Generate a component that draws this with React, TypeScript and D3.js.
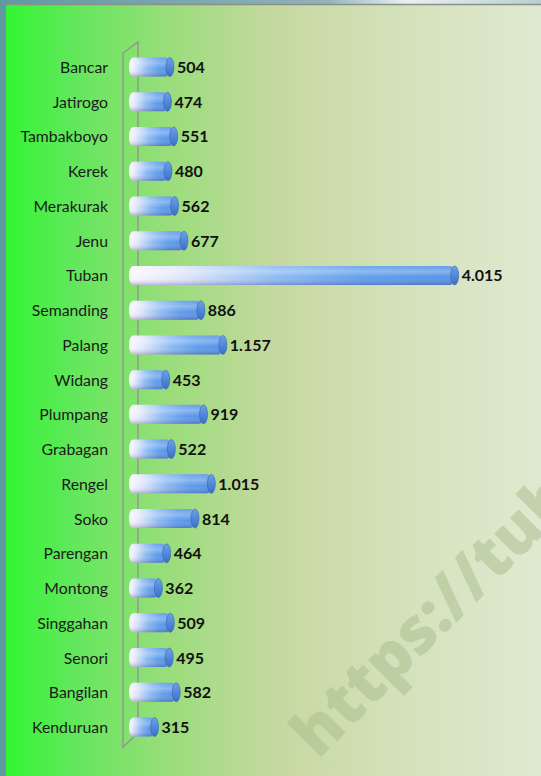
import React, { useEffect } from "react";
import * as d3 from "d3";

const categories = [
  "Bancar", "Jatirogo", "Tambakboyo", "Kerek", "Merakurak", "Jenu", "Tuban",
  "Semanding", "Palang", "Widang", "Plumpang", "Grabagan", "Rengel", "Soko",
  "Parengan", "Montong", "Singgahan", "Senori", "Bangilan", "Kenduruan",
];
const values = [
  504, 474, 551, 480, 562, 677, 4015, 886, 1157, 453, 919, 522, 1015, 814,
  464, 362, 509, 495, 582, 315,
];

const W = 541;
const H = 776;

const locale = d3.formatLocale({ decimal: ",", thousands: ".", grouping: [3], currency: ["Rp", ""] });
const fmt = locale.format(",d");

export default function App() {
  useEffect(() => {
    document.body.style.margin = "0";
  }, []);

  const x = d3.scaleLinear().domain([0, 4500]).range([129, 494]);
  const y = d3.scalePoint<string>().domain(categories).range([67, 727]);
  const barH = 19;
  const capRx = 4;

  return (
    <svg width={W} height={H} style={{ display: "block", position: "absolute", left: 0, top: 0 }}>
      <defs>
        <linearGradient id="outer" x1="0" y1="0" x2="1" y2="0">
          <stop offset="0" stopColor="#5f9aa2" />
          <stop offset="0.6" stopColor="#8fb3b8" />
          <stop offset="0.75" stopColor="#e8f0f2" />
          <stop offset="1" stopColor="#b8cfd2" />
        </linearGradient>
        <linearGradient id="bg" x1="0" y1="0" x2="1" y2="0">
          <stop offset="0" stopColor="#33f533" />
          <stop offset="0.12" stopColor="#5fe85a" />
          <stop offset="0.3" stopColor="#99dd7a" />
          <stop offset="0.5" stopColor="#c6d8a0" />
          <stop offset="0.75" stopColor="#d4e2bc" />
          <stop offset="1" stopColor="#dfe9d0" />
        </linearGradient>
        <linearGradient id="barH" x1="0" y1="0" x2="1" y2="0">
          <stop offset="0" stopColor="#fbf8ff" />
          <stop offset="0.15" stopColor="#e2e8fb" />
          <stop offset="0.45" stopColor="#8cbaf2" />
          <stop offset="0.72" stopColor="#609deb" />
          <stop offset="1" stopColor="#5591e5" />
        </linearGradient>
        <linearGradient id="barV" x1="0" y1="0" x2="0" y2="1">
          <stop offset="0" stopColor="#ffffff" stopOpacity="0.1" />
          <stop offset="0.3" stopColor="#ffffff" stopOpacity="0.3" />
          <stop offset="0.6" stopColor="#ffffff" stopOpacity="0" />
          <stop offset="1" stopColor="#3a2a70" stopOpacity="0.3" />
        </linearGradient>
        <linearGradient id="cap" x1="0" y1="0" x2="0" y2="1">
          <stop offset="0" stopColor="#6aa2ec" />
          <stop offset="1" stopColor="#3c6fc4" />
        </linearGradient>
      </defs>

      <rect x={0} y={0} width={W} height={H} fill="url(#outer)" />
      <rect x={6} y={5} width={W - 6} height={H - 5} fill="url(#bg)" />
      <line x1={6} y1={4.5} x2={W} y2={4.5} stroke="#8a8f88" strokeWidth={1.5} />
      <line x1={5.5} y1={5} x2={5.5} y2={H} stroke="#8a8f88" strokeWidth={1} />

      {/* watermark */}
      <text
        x={0}
        y={0}
        transform="translate(318,760) rotate(-45)"
        fontFamily="'Open Sans', sans-serif"
        fontWeight="800"
        fontSize={64}
        fill="#a7bc8c"
        fillOpacity={0.5}
      >
        https://tubankab
      </text>

      {/* 3D axis wall */}
      <path
        d={`M123,53 L138,42 L138,733 L123,747 Z`}
        fill="none"
        stroke="#8f9a8c"
        strokeWidth={1.5}
      />

      {categories.map((c, i) => {
        const cy = y(c)!;
        const x0 = x(0);
        const x1 = x(values[i]);
        return (
          <g key={c}>
            <text
              x={108}
              y={cy + 6}
              textAnchor="end"
              fontFamily="Lato, sans-serif"
              fontSize={15.8}
              fill="#1a1a1a"
            >
              {c}
            </text>
            <rect x={x0} y={cy - barH / 2} width={x1 - x0} height={barH} rx={4} ry={barH / 2} fill="url(#barH)" />
            <rect x={x0} y={cy - barH / 2} width={x1 - x0} height={barH} rx={4} ry={barH / 2} fill="url(#barV)" />
            <ellipse cx={x1} cy={cy} rx={capRx} ry={barH / 2} fill="url(#cap)" stroke="#3564b4" strokeWidth={0.6} />
            <text
              x={x1 + capRx + 3}
              y={cy + 6}
              fontFamily="Lato, sans-serif"
              fontWeight="bold"
              fontSize={16}
              fill="#111"
            >
              {fmt(values[i])}
            </text>
          </g>
        );
      })}
    </svg>
  );
}
